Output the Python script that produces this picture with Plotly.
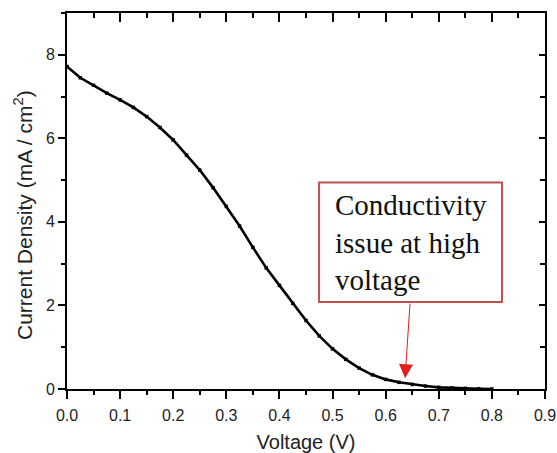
import plotly.graph_objects as go

# Data
voltage = [0.000, 0.025, 0.050, 0.075, 0.100, 0.125, 0.150, 0.175, 0.200, 0.225,
           0.250, 0.275, 0.300, 0.325, 0.350, 0.375, 0.400, 0.425, 0.450, 0.475,
           0.500, 0.525, 0.550, 0.575, 0.600, 0.625, 0.650, 0.675, 0.700, 0.725,
           0.750, 0.775, 0.800]
current_density = [7.72, 7.45, 7.27, 7.08, 6.92, 6.74, 6.52, 6.26, 5.96, 5.60,
                   5.24, 4.82, 4.37, 3.90, 3.39, 2.90, 2.48, 2.05, 1.64, 1.27,
                   0.96, 0.71, 0.50, 0.34, 0.23, 0.16, 0.11, 0.07, 0.04, 0.025,
                   0.015, 0.007, 0.0]

x_range = [0, 0.9]
y_range = [0, 9]
annotation_text = "Conductivity<br>issue at high<br>voltage"
y_title = "Current Density (mA / cm<sup>2</sup>)"

fig = go.Figure()
fig.add_trace(go.Scatter(
    x=voltage, y=current_density, mode="lines+markers",
    line=dict(color="black", width=2.6),
    marker=dict(symbol="square", size=3.5, color="black"),
    showlegend=False, hoverinfo="skip"))
# dummy trace to show the mirrored top/right axes
fig.add_trace(go.Scatter(x=[None], y=[None], xaxis="x2", yaxis="y2",
                         showlegend=False, hoverinfo="skip"))

tickfont = dict(family="Liberation Sans, Arial", size=16, color="#222")

fig.update_layout(
    width=557, height=453,
    margin=dict(l=67, r=12, t=13, b=64, autoexpand=False),
    paper_bgcolor="white", plot_bgcolor="white",
    xaxis=dict(range=x_range, dtick=0.1, tick0=0, tickformat=".1f", automargin=False,
               ticks="outside", ticklen=8, tickwidth=2, tickcolor="black",
               showline=True, linewidth=2, linecolor="black", ticklabelstandoff=3,
               showgrid=False, zeroline=False, tickfont=tickfont,
               minor=dict(dtick=0.05, ticks="outside", ticklen=4, tickwidth=2, tickcolor="black", showgrid=False),
               title=dict(text="Voltage (V)", font=dict(family="Liberation Sans, Arial", size=20, color="#222"), standoff=12)),
    yaxis=dict(range=y_range, dtick=2, tick0=0, automargin=False,
               ticks="outside", ticklen=7, tickwidth=2, tickcolor="black",
               showline=True, linewidth=2, linecolor="black",
               showgrid=False, zeroline=False, tickfont=tickfont,
               minor=dict(dtick=1, ticks="outside", ticklen=4, tickwidth=2, tickcolor="black", showgrid=False)),
    xaxis2=dict(range=x_range, overlaying="x", side="top", dtick=0.1, tick0=0, automargin=False,
                ticks="inside", ticklen=9, tickwidth=2, tickcolor="black",
                showline=True, linewidth=2, linecolor="black",
                showgrid=False, zeroline=False, showticklabels=False,
                minor=dict(dtick=0.05, ticks="inside", ticklen=5, tickwidth=2, tickcolor="black", showgrid=False)),
    yaxis2=dict(range=y_range, overlaying="y", side="right", dtick=2, tick0=0, automargin=False,
                ticks="inside", ticklen=6, tickwidth=2, tickcolor="black",
                showline=True, linewidth=2, linecolor="black",
                showgrid=False, zeroline=False, showticklabels=False,
                minor=dict(dtick=1, ticks="inside", ticklen=5, tickwidth=2, tickcolor="black", showgrid=False)),
)

# y-axis title as rotated text
fig.add_annotation(x=-0.092, y=0.4628, xref="paper", yref="paper", text=y_title,
                   textangle=-90, showarrow=False, xanchor="center", yanchor="middle",
                   font=dict(family="Liberation Sans, Arial", size=21, color="#222"))

# annotation box
fig.add_shape(type="rect", xref="x", yref="y", x0=0.4746, x1=0.819, y0=2.08, y1=4.94,
              line=dict(color="#C0504D", width=2), fillcolor="white", layer="above")
fig.add_annotation(x=0.500, y=3.51, xref="x", yref="y", text=annotation_text,
                   showarrow=False, xanchor="left", yanchor="middle", align="left",
                   font=dict(family="Liberation Serif, Times New Roman", size=29, color="#111"))
# arrow
fig.add_annotation(x=0.6365, y=0.26, ax=0.646, ay=2.08, xref="x", yref="y",
                   axref="x", ayref="y", text="", showarrow=True,
                   arrowhead=2, arrowsize=2.8, arrowwidth=1, arrowcolor="#E0201B")

fig.write_html("out.html")
